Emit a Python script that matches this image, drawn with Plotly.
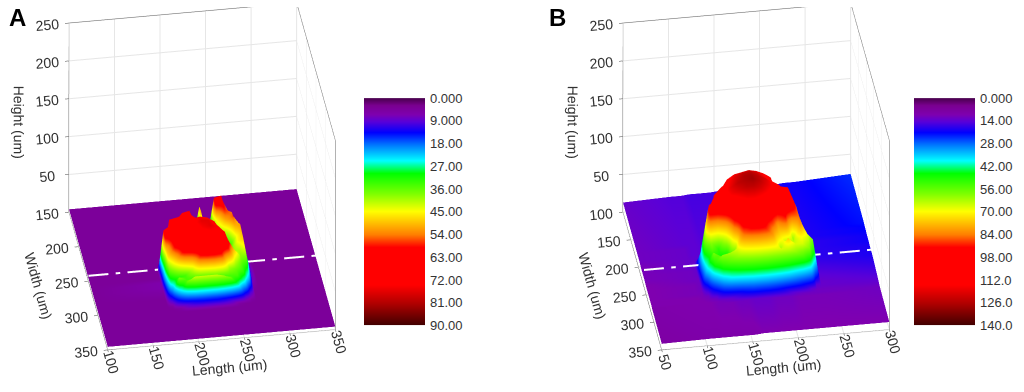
import math
import plotly.graph_objects as go

title_len="Length (um)";title_w="Width (um)";title_h="Height (um)"
z_ticks=[50,100,150,200,250]
w_ticks=[150,200,250,300,350]; w_ticks_b=[100,150,200,250,300,350]
x_ticks_a=[100,150,200,250,300,350]; x_ticks_b=[50,100,150,200,250,300]
cb_vals_a=[0,9,18,27,36,45,54,63,72,81,90]
cb_text_a=["0.000","9.000","18.00","27.00","36.00","45.00","54.00","63.00","72.00","81.00","90.00"]
cb_vals_b=[0,14,28,42,56,70,84,98,112,126,140]
cb_text_b=["0.000","14.00","28.00","42.00","56.00","70.00","84.00","98.00","112.0","126.0","140.0"]

xa=[100,176,182,190,198,206,214,222,230,238,246,254,262,268,274,280,350]
wa=[150,205,212,220,228,236,244,252,260,268,276,284,291,297,302,306,310,350]
za=[
[4,4,4,4,4,4,4,4,4,4,4,4,4,4,4,4,4],
[4,4,4,4,4,4,4,4,4,4,4,4,4,4,4,4,4],
[4,4,4,4,4,4,4,4,50,4,60,62,4,4,4,4,4],
[4,4,4,4,4,4,4,4,52,8,64,62,42,4,4,4,4],
[4,4,4,4,4,4,60,10,30,15,46,58,54,4,4,4,4],
[4,4,4,4,55,66,68,30,34,30,40,50,56,46,4,4,4],
[4,4,4,66,68,70,70,62,52,45,34,38,50,52,4,4,4],
[4,4,60,66,68,70,72,74,72,66,40,30,44,50,8,4,4],
[4,4,62,64,66,68,72,76,76,70,60,35,45,48,10,4,4],
[4,6,50,62,64,66,70,74,76,74,66,40,40,44,10,4,4],
[4,6,46,60,64,66,68,70,72,72,66,50,38,36,8,4,4],
[4,5,36,48,62,64,66,66,68,66,60,42,34,28,5,4,4],
[4,4,26,32,34,42,58,62,62,58,40,36,32,20,4,4,4],
[4,4,14,38,34,34,34,34,36,34,34,34,24,10,4,4,4],
[4,4,5,20,36,42,42,42,42,40,36,26,10,5,4,4,4],
[4,4,4,5,10,14,16,16,16,14,10,5,4,4,4,4,4],
[4,4,4,4,4,4,4,4,4,4,4,4,4,4,4,4,4],
[4,4,4,4,4,4,4,4,4,4,4,4,4,4,4,4,4]]

xb=[50,102,108,114,122,130,138,146,154,162,170,178,186,194,202,210,218,226,232,238,300]
wb=[100,186,192,198,206,216,224,232,240,248,256,264,272,278,284,288,292,350]
zb=[
[13,15,15,15,16,16,16,16,17,17,17,18,18,18,19,19,19,20,20,20,24],
[12,14,14,14,15,15,15,15,16,16,16,17,17,17,17,18,18,18,19,19,22],
[12,13,14,14,15,15,85,15,16,16,16,17,17,17,17,18,18,18,18,19,21],
[12,13,14,14,15,30,88,40,16,16,16,17,17,17,17,18,18,18,18,19,21],
[12,13,14,14,15,40,95,110,116,118,120,118,114,108,17,17,18,18,18,18,20],
[11,13,13,14,25,98,108,114,120,124,125,122,116,110,104,18,18,18,18,18,20],
[11,13,13,30,85,105,110,116,122,126,127,124,120,112,108,106,40,18,32,18,19],
[11,12,13,40,98,102,110,118,124,126,128,124,118,112,108,108,85,35,17,18,19],
[11,12,13,45,98,98,108,116,120,124,124,120,114,108,106,105,85,45,30,17,19],
[10,12,12,45,60,50,72,104,112,116,116,112,106,98,100,88,85,60,45,16,18],
[10,11,12,40,52,48,46,88,104,108,108,104,96,80,92,60,84,66,58,15,17],
[10,11,12,35,58,52,48,62,100,100,100,96,85,74,62,64,70,64,48,14,16],
[10,11,11,20,48,60,62,66,84,92,94,90,80,62,75,66,66,58,28,13,15],
[10,10,11,12,30,48,55,60,64,68,70,70,68,66,64,60,54,40,14,13,14],
[10,10,10,11,13,28,38,42,44,46,46,46,44,42,38,30,22,14,12,12,13],
[9,10,10,10,11,12,14,18,24,28,28,28,26,22,16,13,12,12,12,12,12],
[9,10,10,10,11,11,11,12,12,13,13,13,12,12,12,11,11,11,11,11,12],
[8,9,9,9,9,9,9,9,9,10,10,10,10,10,10,10,10,10,10,10,10]]

scale=[[0,"#4a0050"],[0.03,"#7a0090"],[0.07,"#7f00b0"],[0.1,"#5a00d8"],[0.15,"#0000ff"],[0.21,"#0080ff"],[0.275,"#00ffff"],[0.33,"#00ff00"],[0.42,"#80ff00"],[0.495,"#ffff00"],[0.6,"#ff8000"],[0.655,"#ff0000"],[0.82,"#ff0000"],[0.9,"#b00000"],[1,"#400000"]]
W=1024
font=dict(family="Liberation Sans, Arial",size=13,color="#333333")
def axis(title,tv,rng):
    return dict(title=dict(text=title,font=dict(family="Liberation Sans, Arial",size=14,color="#333333")),tickvals=tv,ticktext=[str(v) for v in tv],range=rng,
        showbackground=False,gridcolor="#e6e6e6",showline=True,linecolor="#666666",mirror=True,ticks="outside",ticklen=4,
        tickcolor="#444444",tickfont=font,zeroline=False,showspikes=False)
yaw=math.radians(9.0); el=math.radians(34.2); dist=2.07; pxu=187.0
fw=(math.sin(yaw)*math.cos(el),math.cos(yaw)*math.cos(el),-math.sin(el))
rt=(math.cos(yaw),-math.sin(yaw),0)
up=(math.sin(yaw)*math.sin(el),math.cos(yaw)*math.sin(el),math.cos(el))
hw=180
dx=(202-hw)/pxu; dy=(196-177)/pxu
cen=[-rt[i]*dx-up[i]*dy for i in range(3)]
eye=[cen[i]-fw[i]*dist for i in range(3)]
cam=dict(eye=dict(x=eye[0],y=eye[1],z=eye[2]),center=dict(x=cen[0],y=cen[1],z=cen[2]),up=dict(x=0,y=0,z=1),projection=dict(type="orthographic"))
def scene(off,xt,xr,wt):
    return dict(domain=dict(x=[off/W,(off+2*hw)/W],y=[0,1]),camera=cam,aspectmode="manual",
        aspectratio=dict(x=1.223,y=1.315,z=1.214),
        xaxis=axis(title_len,xt,xr),yaxis=axis(title_w,wt,[350,wt[0]]),zaxis=axis(title_h,z_ticks,[0,250]))
light=dict(ambient=1,diffuse=0,specular=0,roughness=1,fresnel=0)
def dashes(x0,x1):
    xs=[];x=x0
    while x<x1:
        xs+=[x,min(x+22,x1),None]
        if x+30<x1: xs+=[x+30,min(x+35,x1),None]
        x+=43
    return xs
dash_a=dashes(100,350); dash_b=dashes(50,300)
fig=go.Figure()
fig.add_trace(go.Surface(x=xa,y=wa,z=za,cmin=0,cmax=90,colorscale=scale,showscale=False,lighting=light,scene="scene"))
fig.add_trace(go.Scatter3d(x=dash_a,y=[250]*len(dash_a),z=[7]*len(dash_a),mode="lines",line=dict(color="white",width=4),showlegend=False,scene="scene"))
fig.add_trace(go.Surface(x=xb,y=wb,z=zb,cmin=0,cmax=140,colorscale=scale,showscale=False,lighting=light,scene="scene2"))
fig.add_trace(go.Scatter3d(x=dash_b,y=[235]*len(dash_b),z=[22]*len(dash_b),mode="lines",line=dict(color="white",width=4),showlegend=False,scene="scene2"))
fig.add_trace(go.Heatmap(x=[0,1],y=cb_vals_a,z=[[v,v] for v in cb_vals_a],zmin=0,zmax=90,colorscale=scale,showscale=False,zsmooth="best",xaxis="x",yaxis="y"))
fig.add_trace(go.Heatmap(x=[0,1],y=cb_vals_b,z=[[v,v] for v in cb_vals_b],zmin=0,zmax=140,colorscale=scale,showscale=False,zsmooth="best",xaxis="x2",yaxis="y2"))
def cbx(a,b,anc):
    return dict(domain=[a/W,b/W],visible=False,range=[0,1],anchor=anc)
def cby(v,t,m,anc):
    return dict(domain=[1-0.8446,1-0.2417],range=[m,0],tickvals=v,ticktext=t,side="right",anchor=anc,ticks="",ticklabelstandoff=4,tickfont=dict(family="Liberation Sans, Arial",size=13,color="#333333"),showgrid=False,zeroline=False,showline=False)
lab=dict(family="Liberation Sans, Arial",size=24,color="black")
fig.update_layout(width=1024,height=392,margin=dict(l=0,r=0,t=0,b=0),paper_bgcolor="white",plot_bgcolor="white",showlegend=False,
    scene=scene(0,x_ticks_a,[100,350],w_ticks),scene2=scene(554,x_ticks_b,[50,300],w_ticks_b),
    xaxis=cbx(364,425,"y"),yaxis=cby(cb_vals_a,cb_text_a,90,"x"),xaxis2=cbx(914,975,"y2"),yaxis2=cby(cb_vals_b,cb_text_b,140,"x2"),
    annotations=[dict(text="<b>A</b>",x=7/W,y=1,yshift=5,xref="paper",yref="paper",xanchor="left",yanchor="top",showarrow=False,font=lab),
    dict(text="<b>B</b>",x=547/W,y=1,yshift=5,xref="paper",yref="paper",xanchor="left",yanchor="top",showarrow=False,font=lab)])
fig.write_html("out.html",config=dict(displayModeBar=False),post_script="document.body.style.margin='0';")
